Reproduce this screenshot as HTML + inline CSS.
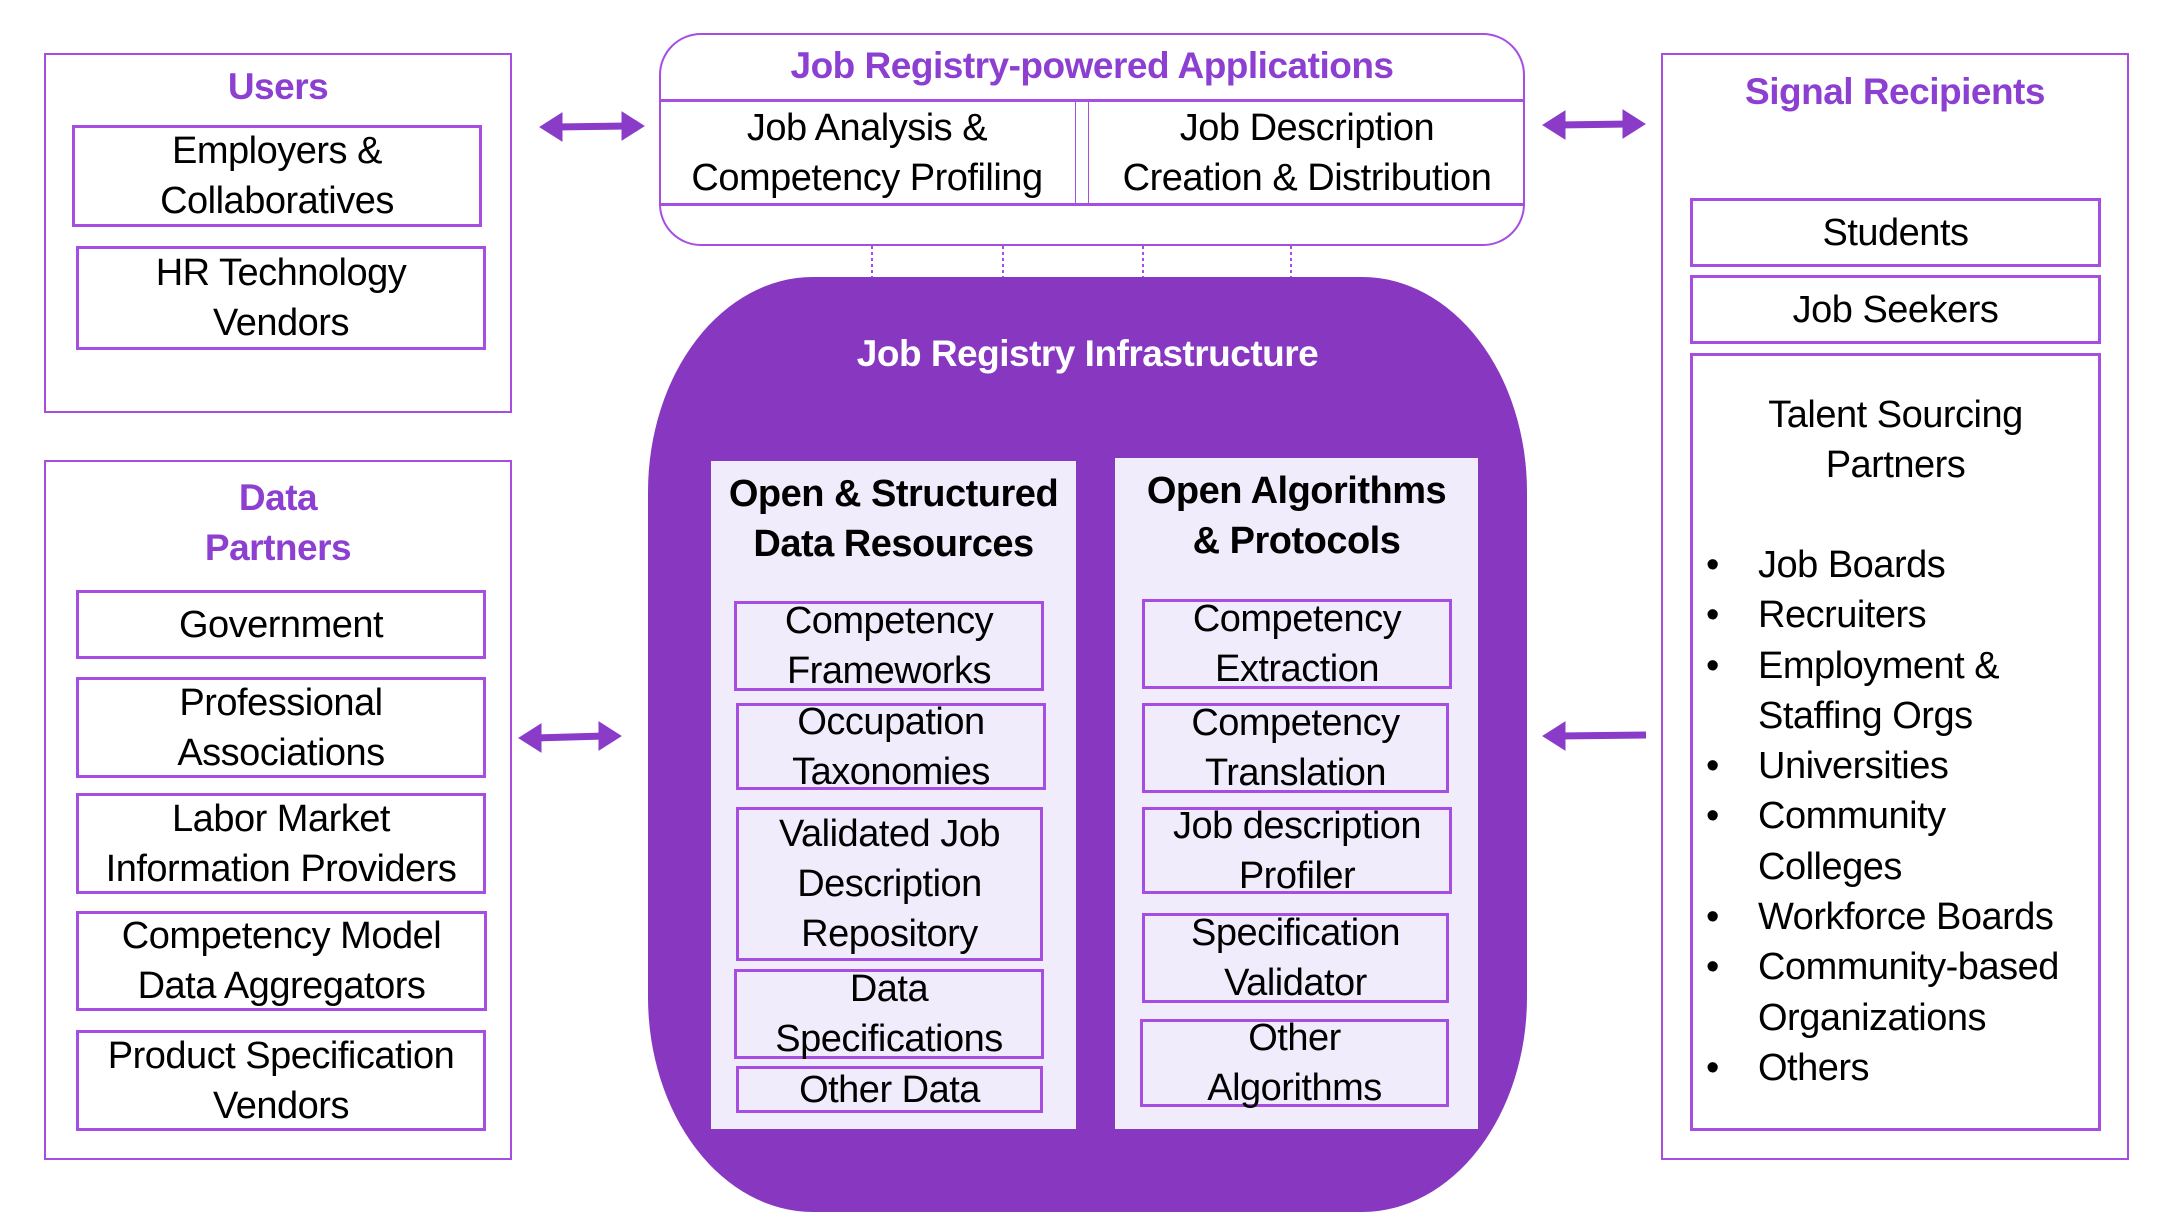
<!DOCTYPE html>
<html><head><meta charset="utf-8"><style>
body{margin:0;width:2170px;height:1230px;background:#fff;position:relative;overflow:hidden;font-family:"Liberation Sans",sans-serif;}
.a{position:absolute;box-sizing:border-box;}
.b{border:3px solid #a64ee2;display:flex;align-items:center;justify-content:center;text-align:center;font-size:38px;line-height:50px;color:#000;letter-spacing:-0.5px;white-space:nowrap;}
.o{border:2px solid #a64ee2;}
.t{position:absolute;text-align:center;font-weight:bold;color:#8c3fd0;font-size:37px;line-height:50px;letter-spacing:-0.5px;white-space:nowrap;}
.pb{color:#000;font-size:38px;}
.lt{position:absolute;font-size:38px;line-height:50px;letter-spacing:-0.5px;white-space:nowrap;}
</style></head><body>

<!-- Users -->
<div class="a o" style="left:44px;top:53px;width:468px;height:360px;"></div>
<div class="t" style="left:44px;width:468px;top:62px;">Users</div>
<div class="a b" style="left:72px;top:125px;width:410px;height:102px;">Employers &amp;<br>Collaboratives</div>
<div class="a b" style="left:76px;top:246px;width:410px;height:104px;">HR Technology<br>Vendors</div>

<!-- Data partners -->
<div class="a o" style="left:44px;top:460px;width:468px;height:700px;"></div>
<div class="t" style="left:44px;width:468px;top:473px;">Data<br>Partners</div>
<div class="a b" style="left:76px;top:590px;width:410px;height:69px;">Government</div>
<div class="a b" style="left:76px;top:677px;width:410px;height:101px;">Professional<br>Associations</div>
<div class="a b" style="left:76px;top:793px;width:410px;height:101px;">Labor Market<br>Information Providers</div>
<div class="a b" style="left:76px;top:911px;width:411px;height:100px;">Competency Model<br>Data Aggregators</div>
<div class="a b" style="left:76px;top:1030px;width:410px;height:101px;">Product Specification<br>Vendors</div>

<!-- Apps -->
<div class="a" style="left:659px;top:33px;width:866px;height:213px;border:2px solid #a64ee2;border-radius:42px;"></div>
<div class="t" style="left:659px;width:866px;top:41px;">Job Registry-powered Applications</div>
<div class="a b" style="left:659px;top:99px;width:419px;height:107px;border-left:none;">Job Analysis &amp;<br>Competency Profiling</div>
<div class="a b" style="left:1086px;top:99px;width:439px;height:107px;border-right:none;">Job Description<br>Creation &amp; Distribution</div>
<div class="a" style="left:1076px;top:99px;width:12px;height:107px;background:#fff;border-top:3px solid #a64ee2;border-bottom:3px solid #a64ee2;box-sizing:border-box;"></div>

<svg class="a" style="left:0;top:0" width="2170" height="1230">
<g stroke="#a64ee2" stroke-width="2" stroke-dasharray="3,3">
<line x1="872" y1="246" x2="872" y2="278"/><line x1="1003" y1="246" x2="1003" y2="278"/>
<line x1="1143" y1="246" x2="1143" y2="278"/><line x1="1291" y1="246" x2="1291" y2="278"/>
</g>
<g fill="#8a3cc8" stroke="#8a3cc8" stroke-width="7">
<line x1="555" y1="127" x2="628" y2="126"/>
<polygon stroke-width="1" points="540,127 562,113 562,141"/>
<polygon stroke-width="1" points="644,126 622,112 622,140"/>
<line x1="1558" y1="125" x2="1630" y2="124"/>
<polygon stroke-width="1" points="1543,125 1565,111 1565,139"/>
<polygon stroke-width="1" points="1645,124 1623,110 1623,138"/>
<line x1="534" y1="738" x2="605" y2="736"/>
<polygon stroke-width="1" points="519,738 541,724 541,752"/>
<polygon stroke-width="1" points="621,736 599,722 599,750"/>
<line x1="1558" y1="736" x2="1646" y2="735"/>
<polygon stroke-width="1" points="1543,736 1565,722 1565,750"/>
</g>
</svg>

<!-- Signal Recipients -->
<div class="a o" style="left:1661px;top:53px;width:468px;height:1107px;"></div>
<div class="t" style="left:1661px;width:468px;top:67px;">Signal Recipients</div>
<div class="a b" style="left:1690px;top:198px;width:411px;height:69px;">Students</div>
<div class="a b" style="left:1690px;top:275px;width:411px;height:69px;">Job Seekers</div>
<div class="a" style="left:1690px;top:353px;width:411px;height:778px;border:3px solid #a64ee2;"></div>
<div class="lt" style="left:1690px;width:411px;text-align:center;top:390px;">Talent Sourcing<br>Partners</div>
<div class="lt" style="left:1706px;top:540px;line-height:50.3px;">•<br>•<br>•<br><br>•<br>•<br><br>•<br>•<br><br>•</div>
<div class="lt" style="left:1758px;top:540px;line-height:50.3px;">Job Boards<br>Recruiters<br>Employment &amp;<br>Staffing Orgs<br>Universities<br>Community<br>Colleges<br>Workforce Boards<br>Community-based<br>Organizations<br>Others</div>

<!-- Infrastructure -->
<div class="a" style="left:648px;top:277px;width:879px;height:935px;background:#8737c0;border-radius:165px/215px;"></div>
<div class="t" style="left:648px;width:879px;top:329px;color:#fff;">Job Registry Infrastructure</div>
<div class="a" style="left:711px;top:461px;width:365px;height:668px;background:#f1ecfb;"></div>
<div class="t pb" style="left:711px;width:365px;top:469px;">Open &amp; Structured<br>Data Resources</div>
<div class="a b" style="left:734px;top:601px;width:310px;height:90px;">Competency<br>Frameworks</div>
<div class="a b" style="left:736px;top:703px;width:310px;height:87px;">Occupation<br>Taxonomies</div>
<div class="a b" style="left:736px;top:807px;width:307px;height:154px;">Validated Job<br>Description<br>Repository</div>
<div class="a b" style="left:734px;top:969px;width:310px;height:90px;">Data<br>Specifications</div>
<div class="a b" style="left:736px;top:1066px;width:307px;height:47px;">Other Data</div>

<div class="a" style="left:1115px;top:458px;width:363px;height:671px;background:#f1ecfb;"></div>
<div class="t pb" style="left:1115px;width:363px;top:466px;">Open Algorithms<br>&amp; Protocols</div>
<div class="a b" style="left:1142px;top:599px;width:310px;height:90px;">Competency<br>Extraction</div>
<div class="a b" style="left:1142px;top:703px;width:307px;height:90px;">Competency<br>Translation</div>
<div class="a b" style="left:1142px;top:807px;width:310px;height:87px;">Job description<br>Profiler</div>
<div class="a b" style="left:1142px;top:913px;width:307px;height:90px;">Specification<br>Validator</div>
<div class="a b" style="left:1140px;top:1019px;width:309px;height:88px;">Other<br>Algorithms</div>

</body></html>
